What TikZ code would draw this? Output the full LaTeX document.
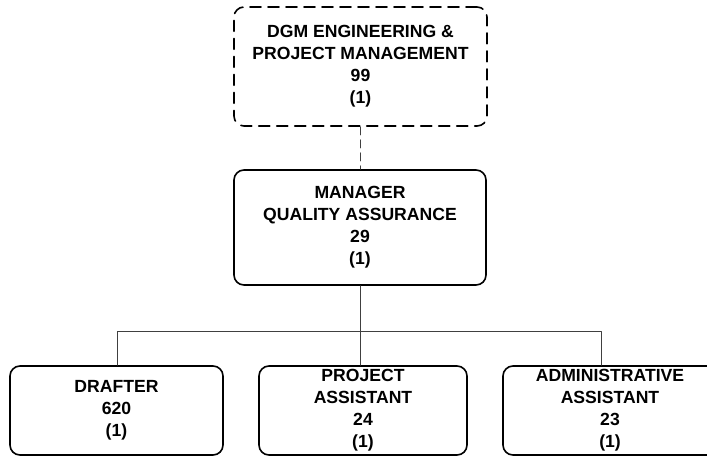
\documentclass[tikz,border=0pt]{standalone}
\usepackage{fontspec}
\setmainfont{Liberation Sans}
\begin{document}
\begin{tikzpicture}[x=1pt, y=-1pt, line join=round, line cap=round,
		font=\fontsize{17.6}{22}\selectfont\bfseries,
		post/.style={draw, line width=1.6pt, rounded corners=10pt, align=center, inner sep=0pt},
		link/.style={line width=1pt, draw=black!75}]
	\useasboundingbox (0,0) rectangle (707,456);
	\node[post, dashed, dash pattern=on 11pt off 7pt, minimum width=253pt, minimum height=119pt] (dgm) at (360.5,66.5) {DGM ENGINEERING \&\\PROJECT MANAGEMENT\\99\\(1)};
	\node[post, minimum width=252pt, minimum height=115pt] (mqa) at (360,227.5) {MANAGER\\QUALITY ASSURANCE\\29\\(1)};
	\node[post, minimum width=213pt, minimum height=89pt] (drafter) at (116.5,410.5) {DRAFTER\\620\\(1)};
	\node[post, minimum width=208pt, minimum height=89pt] (project) at (363,410.5) {PROJECT\\ASSISTANT\\24\\(1)};
	\node[post, minimum width=214pt, minimum height=89pt] (admin) at (610,410.5) {ADMINISTRATIVE\\ASSISTANT\\23\\(1)};
	\coordinate (busL) at (117,331);
	\coordinate (busR) at (601,331);
	\draw[link, dashed, dash pattern=on 8pt off 5pt] (dgm.south -| mqa.north) -- (mqa.north);
	\draw[link] (mqa.south) -- (mqa.south |- project.north);
	\draw[link] (busL |- drafter.north) -- (busL) -- (busR) -- (busR |- admin.north);
\end{tikzpicture}
\end{document}
